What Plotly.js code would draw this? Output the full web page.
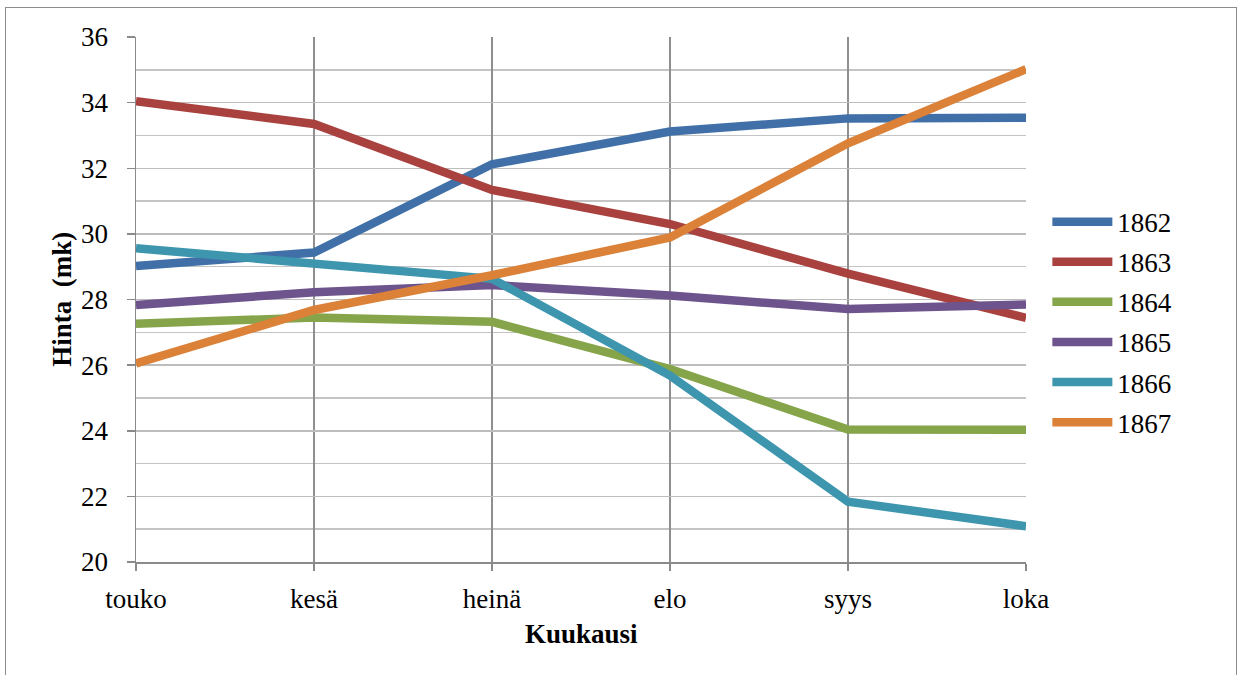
<!DOCTYPE html>
<html>
<head>
<meta charset="utf-8">
<script src="https://cdn.plot.ly/plotly-3.0.1.min.js"></script>
<style>
html,body{margin:0;padding:0;background:#fff;}
#chart{width:1240px;height:675px;position:absolute;left:0;top:0;}
#frame{position:absolute;left:5px;top:7px;width:1230px;height:700px;border:1.5px solid #8c8c8c;pointer-events:none;}
</style>
</head>
<body>
<div id="chart"></div>
<div id="frame"></div>
<script>
const months = ["touko", "kesä", "heinä", "elo", "syys", "loka"];
const years = ["1862", "1863", "1864", "1865", "1866", "1867"];
const v1862 = [29.02, 29.43, 32.12, 33.12, 33.52, 33.54];
const v1863 = [34.04, 33.35, 31.34, 30.3, 28.79, 27.44];
const v1864 = [27.26, 27.45, 27.32, 25.88, 24.04, 24.03];
const v1865 = [27.83, 28.22, 28.44, 28.12, 27.71, 27.85];
const v1866 = [29.56, 29.07, 28.63, 25.68, 21.84, 21.09];
const v1867 = [26.05, 27.68, 28.74, 29.89, 32.76, 35.02];
const colors = ["#4170a8", "#a9413f", "#86a44a", "#6e548d", "#3d96ae", "#db8138"];
const series = [v1862, v1863, v1864, v1865, v1866, v1867];

const FONT = "'Liberation Serif', 'Times New Roman', serif";
const traces = series.map((vals, i) => ({
  type: "scatter", mode: "lines",
  x: months, y: vals, name: years[i],
  legendgroup: "g" + i,
  line: {color: colors[i], width: 8.5}
}));

const layout = {
  width: 1240, height: 675,
  margin: {l: 136, r: 214, t: 37, b: 113},
  paper_bgcolor: "#fff", plot_bgcolor: "#fff",
  font: {family: FONT, size: 27, color: "#000"},
  showlegend: true,
  legend: {
    x: 1.024, xanchor: "left", y: 0.457, yanchor: "middle",
    font: {family: FONT, size: 27, color: "#000"},
    itemwidth: 60, tracegroupgap: 2, bgcolor: "rgba(0,0,0,0)"
  },
  xaxis: {
    type: "category", range: [0, 5],
    showgrid: true, gridcolor: "#8f8f8f", gridwidth: 1.5,
    showline: true, linecolor: "#8a8a8a", linewidth: 1.5,
    ticks: "outside", ticklen: 7, tickcolor: "#8a8a8a", tickwidth: 1.5,
    ticklabelstandoff: 5,
    tickfont: {family: FONT, size: 27}, zeroline: false
  },
  yaxis: {
    range: [20, 36], dtick: 2, tick0: 20,
    showgrid: true, gridcolor: "#bdbdbd", gridwidth: 1.5,
    minor: {dtick: 1, showgrid: true, gridcolor: "#c4c4c4", gridwidth: 1.5, ticks: ""},
    showline: true, linecolor: "#8a8a8a", linewidth: 1.5,
    ticks: "outside", ticklen: 8, tickcolor: "#8a8a8a", tickwidth: 1.5,
    ticklabelstandoff: 13,
    tickfont: {family: FONT, size: 27}, zeroline: false
  },
  annotations: [
    {text: "<b>Kuukausi</b>", xref: "paper", yref: "paper", x: 0.5, y: -0.138,
     xanchor: "center", yanchor: "middle", showarrow: false,
     font: {family: FONT, size: 27, color: "#000"}},
    {text: "<b>Hinta\u00a0\u00a0(mk)</b>", xref: "paper", yref: "paper", x: -0.084, y: 0.5,
     xanchor: "center", yanchor: "middle", showarrow: false, textangle: -90,
     font: {family: FONT, size: 27, color: "#000"}}
  ]
};

Plotly.newPlot("chart", traces, layout, {displayModeBar: false, staticPlot: true});
</script>
</body>
</html>
